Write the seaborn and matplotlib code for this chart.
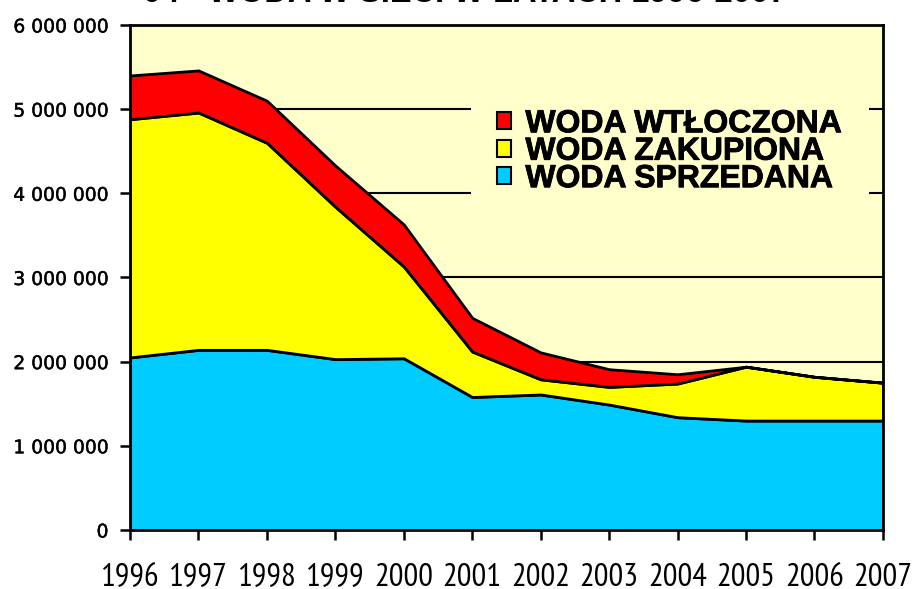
import numpy as np
import pandas as pd
import matplotlib
matplotlib.use('Agg')
import matplotlib.pyplot as plt
import matplotlib.font_manager as fm
import matplotlib.patheffects as pe
import seaborn as sns
from matplotlib.patches import Patch
from matplotlib.ticker import FuncFormatter

# dane (m3)
lata = [1996, 1997, 1998, 1999, 2000, 2001, 2002, 2003, 2004, 2005, 2006, 2007]
woda_sprzedana = [2050000, 2140000, 2140000, 2030000, 2040000, 1580000,
                  1610000, 1490000, 1340000, 1300000, 1300000, 1300000]
woda_zakupiona = [2830000, 2820000, 2460000, 1810000, 1090000, 540000,
                  180000, 210000, 400000, 640000, 520000, 450000]
woda_wtloczona = [520000, 500000, 500000, 490000, 500000, 400000,
                  320000, 210000, 110000, 0, 0, 0]

etykiety = ['WODA SPRZEDANA', 'WODA ZAKUPIONA', 'WODA WTŁOCZONA']
kolory = ['#00CCFF', '#FFFF00', '#FF0000']
tytul = '04 - WODA W SIECI W LATACH 1996-2007'

df = pd.DataFrame({'rok': lata,
                   etykiety[0]: woda_sprzedana,
                   etykiety[1]: woda_zakupiona,
                   etykiety[2]: woda_wtloczona})

sns.set_theme(style='white')
plt.rcParams['font.family'] = ['Liberation Sans', 'DejaVu Sans']
plt.rcParams['text.color'] = 'black'

# czcionka waska do lat (jesli jest)
dostepne = {f.name for f in fm.fontManager.ttflist}
kandydaci = ['PT Sans Narrow', 'Liberation Sans Narrow', 'Fira Sans Condensed',
             'Open Sans Condensed', 'Roboto Condensed', 'Sofia Sans Condensed',
             'Barlow Semi Condensed']
waska = next((k for k in kandydaci if k in dostepne), 'DejaVu Sans')

fig = plt.figure(figsize=(9.14, 5.89), dpi=100)
ax = fig.add_axes([0.1422, 0.1002, 0.966 - 0.1422, 0.9576 - 0.1002])
ax.set_facecolor('#FFFFCC')

# linie siatki pod obszarami
for y in range(1000000, 6000000, 1000000):
    ax.axhline(y, color='black', lw=1.5, zorder=0)

ax.stackplot(df['rok'], df[etykiety[0]], df[etykiety[1]], df[etykiety[2]],
             colors=kolory, edgecolor='black', linewidth=2, zorder=2)

ax.set_xlim(1996, 2007)
ax.set_ylim(0, 6000000)
ax.set_xticks(lata)
ax.set_yticks(range(0, 6000001, 1000000))
ax.yaxis.set_major_formatter(FuncFormatter(lambda v, p: f'{int(v):,}'.replace(',', ' ')))

for s in ax.spines.values():
    s.set_color('black')
    s.set_linewidth(2)
    s.set_zorder(5)

ax.tick_params(axis='y', direction='out', length=7.5, width=1.8, color='black',
               pad=8, left=True, labelcolor='black')
ax.tick_params(axis='x', direction='out', length=7.5, width=1.8, color='black',
               pad=16, bottom=True, labelcolor='black')
for t in ax.get_yticklabels():
    t.set_family('DejaVu Sans')
    t.set_fontsize(13.5)
    t.set_path_effects([pe.withStroke(linewidth=0.3, foreground='black')])
for t in ax.get_xticklabels():
    t.set_family([waska, 'DejaVu Sans'])
    t.set_fontsize(23.5)

uchwyty = [Patch(facecolor=kolory[i], edgecolor='black', linewidth=1.5, label=etykiety[i])
           for i in [2, 1, 0]]
leg = ax.legend(handles=uchwyty, loc='center', bbox_to_anchor=(0.717, 0.749),
                frameon=True, facecolor='#FFFFCC', edgecolor='none', framealpha=1,
                handlelength=0.44, handleheight=0.44, handletextpad=0.44,
                labelspacing=-0.08, borderpad=0.82,
                prop={'family': 'Liberation Sans', 'weight': 'bold', 'size': 23})
leg.get_frame().set_boxstyle('square', pad=0)
leg.set_zorder(4)
for t in leg.get_texts():
    t.set_color('black')
    t.set_path_effects([pe.withStroke(linewidth=0.6, foreground='black')])

fig.text(0.5088, 1 - 2 / 589, tytul, ha='center', va='baseline',
         fontsize=23.5, fontweight='bold', color='black')

fig.savefig('out.png', dpi=100)
